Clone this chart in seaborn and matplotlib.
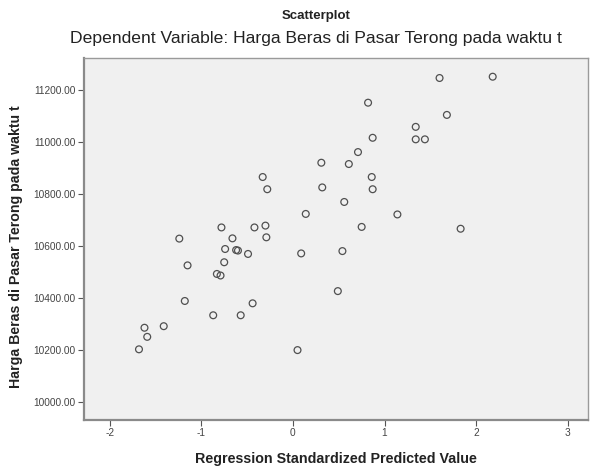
import matplotlib
matplotlib.use("Agg")
import matplotlib.pyplot as plt
import seaborn as sns
import pandas as pd

# Regression standardized predicted value (x) and observed price (y)
predicted = [2.18, 1.60, 0.82, 1.68, 1.34, 1.34, 1.44, 0.87, 0.71, 0.31,
             0.61, 0.86, -0.33, -0.28, 0.32, 0.87, 0.56, 0.14, 1.14, 0.75,
             1.83, -0.78, -0.42, -0.30, -0.29, -0.66, -1.24, -0.74, -0.62, -0.60,
             -0.49, 0.09, 0.54, -1.15, -0.75, -0.83, -0.79, 0.49, -1.18, -0.44,
             -0.87, -0.57, -1.41, -1.62, -1.59, -1.68, 0.05]
harga = [11251, 11246, 11151, 11104, 11058, 11010, 11010, 11016, 10961, 10920,
         10915, 10865, 10865, 10818, 10825, 10818, 10769, 10723, 10721, 10673,
         10666, 10671, 10671, 10678, 10633, 10629, 10628, 10588, 10584, 10582,
         10569, 10571, 10580, 10525, 10537, 10492, 10486, 10426, 10388, 10379,
         10333, 10333, 10291, 10285, 10250, 10202, 10199]

x_ticks = [-2, -1, 0, 1, 2, 3]
y_ticks = [10000, 10200, 10400, 10600, 10800, 11000, 11200]

title = "Scatterplot"
subtitle = "Dependent Variable: Harga Beras di Pasar Terong pada waktu t"
x_label = "Regression Standardized Predicted Value"
y_label = "Harga Beras di Pasar Terong pada waktu t"

df = pd.DataFrame({"pred": predicted, "harga": harga})

sns.set_style("white")
plt.rcParams["font.family"] = ["Liberation Sans", "DejaVu Sans"]

fig = plt.figure(figsize=(5.90, 4.68), dpi=100)
ax = fig.add_axes([84/590, 1-420/468, (588-84)/590, (420-58)/468])
ax.set_facecolor("#f0f0f0")

sns.scatterplot(data=df, x="pred", y="harga", ax=ax, s=24,
                facecolor="none", edgecolor="#505050", linewidth=0.9,
                marker="o", legend=False)

ax.set_xlim(-2.28, 3.22)
ax.set_ylim(9930, 11323)
ax.set_xticks(x_ticks)
ax.set_xticklabels([str(t) for t in x_ticks], fontsize=7.3, color="#444444")
ax.set_yticks(y_ticks)
ax.set_yticklabels([f"{t:.2f}" for t in y_ticks], fontsize=7.3, color="#444444")
ax.tick_params(axis="both", direction="out", length=4, width=0.8,
               color="#555555", pad=2, left=True, bottom=True)

for side in ["left", "bottom"]:
    ax.spines[side].set_color("#8a8a8a")
    ax.spines[side].set_linewidth(1.6)
for side in ["top", "right"]:
    ax.spines[side].set_color("#9a9a9a")
    ax.spines[side].set_linewidth(1.0)

ax.set_xlabel(x_label, fontsize=10.3, fontweight="bold", color="#222222", labelpad=10)
ax.set_ylabel(y_label, fontsize=10.2, fontweight="bold", color="#222222")
ax.yaxis.set_label_coords(-0.121, 0.478)

fig.text(316/590, 1-16/468, title, ha="center", va="center",
         fontsize=9.5, fontweight="bold", color="#222222")
fig.text(316/590, 1-38/468, subtitle, ha="center", va="center",
         fontsize=12.6, color="#222222")

fig.savefig("out.png", dpi=100, facecolor="white")
